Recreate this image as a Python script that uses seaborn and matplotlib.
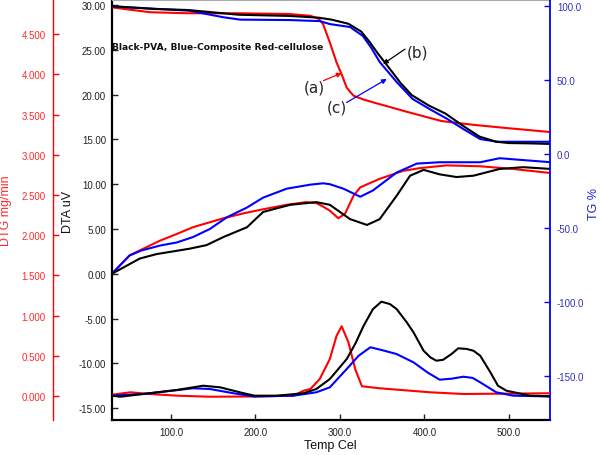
import matplotlib
matplotlib.use("Agg")
import matplotlib.pyplot as plt
import seaborn as sns
from matplotlib.ticker import FormatStrFormatter

# ---------------- data ----------------
# TG (%) curves (right axis)
tg_pva_T = [30, 80, 120, 180, 240, 275, 290, 310, 325, 335, 345, 360, 372, 385, 405, 425, 445, 465, 485, 500, 525, 550]
tg_pva_V = [100, 98.2, 97.5, 94.3, 93.5, 92.3, 91, 88.2, 83, 76, 68, 57, 48, 40, 33, 27.5, 19.5, 12, 8.5, 7.6, 7.4, 7]
tg_comp_T = [30, 122, 162, 182, 241, 276, 288, 312, 327, 337, 347, 367, 386, 406, 427, 446, 466, 486, 550]
tg_comp_V = [100, 97, 92.6, 91, 90.7, 90, 88, 86, 80, 72, 62.4, 48.9, 37.4, 30.6, 23.9, 17.1, 10.3, 8.5, 8.5]
tg_cell_T = [30, 75, 120, 180, 240, 265, 275, 280, 288, 296, 302, 308, 316, 328, 340, 380, 420, 460, 500, 550]
tg_cell_V = [99.3, 96, 95.3, 95.3, 94.8, 93.6, 91.5, 88, 75.6, 62, 54, 45, 39.6, 37, 35, 28.6, 22.5, 19.8, 17.6, 15]

# DTA (uV) curves (main axis)
dta_pva_T = [30, 63, 83, 122, 142, 162, 190, 209, 241, 272, 288, 312, 332, 347, 367, 383, 399, 418, 438, 458, 489, 517, 550]
dta_pva_V = [0, 1.7, 2.2, 2.8, 3.2, 4.1, 5.2, 6.9, 7.7, 8.0, 7.7, 6.1, 5.45, 6.1, 8.7, 10.95, 11.6, 11.1, 10.8, 10.95, 11.7, 11.9, 11.7]
dta_comp_T = [30, 51, 65, 87, 107, 126, 146, 166, 190, 209, 237, 265, 280, 288, 304, 324, 339, 367, 391, 418, 466, 489, 509, 550]
dta_comp_V = [0, 2.05, 2.6, 3.15, 3.5, 4.1, 5.0, 6.3, 7.4, 8.5, 9.5, 9.95, 10.1, 10.0, 9.5, 8.6, 9.3, 11.3, 12.3, 12.45, 12.45, 12.9, 12.75, 12.45]
dta_cell_T = [30, 51, 65, 87, 107, 126, 146, 162, 186, 209, 237, 260, 272, 280, 288, 298, 306, 316, 324, 347, 375, 395, 426, 466, 505, 549]
dta_cell_V = [0, 2.05, 2.7, 3.7, 4.45, 5.2, 5.75, 6.2, 6.75, 7.2, 7.7, 8.0, 7.9, 7.5, 7.05, 6.2, 6.7, 8.7, 9.65, 10.6, 11.5, 11.8, 12.1, 12.0, 11.7, 11.25]

# DTG (mg/min) curves (outer left axis)
dtg_pva_T = [30, 40, 67, 107, 138, 158, 186, 199, 225, 257, 272, 288, 308, 318, 328, 339, 349, 359, 367, 379, 387, 399,
             407, 414, 422, 432, 440, 450, 458, 466, 478, 487, 497, 525, 550]
dtg_pva_V = [0.004, -0.009, 0.025, 0.075, 0.128, 0.108, 0.034, 0.004, 0.004, 0.034, 0.087, 0.211, 0.46, 0.647, 0.874,
             1.08, 1.173, 1.144, 1.082, 0.917, 0.792, 0.563, 0.481, 0.439, 0.45, 0.522, 0.593, 0.585, 0.563, 0.501,
             0.295, 0.128, 0.066, 0.004, -0.004]
dtg_comp_T = [30, 67, 126, 146, 174, 199, 245, 272, 288, 308, 322, 336, 350, 367, 387, 404, 418, 432, 446, 457, 466,
              485, 505, 550]
dtg_comp_V = [0.004, 0.025, 0.096, 0.087, 0.034, -0.006, 0.004, 0.046, 0.108, 0.336, 0.5, 0.606, 0.57, 0.522, 0.419,
              0.29, 0.203, 0.215, 0.24, 0.225, 0.17, 0.046, 0.004, -0.006]
dtg_cell_T = [30, 52, 75, 107, 146, 199, 245, 257, 265, 276, 288, 296, 302, 310, 318, 326, 347, 407, 446, 550]
dtg_cell_V = [0.016, 0.046, 0.025, 0.004, -0.009, -0.006, 0.004, 0.066, 0.087, 0.211, 0.46, 0.75, 0.867, 0.668, 0.336,
              0.121, 0.096, 0.046, 0.025, 0.034]

x_ticks = [100, 200, 300, 400, 500]
dta_ticks = [-15, -10, -5, 0, 5, 10, 15, 20, 25, 30]
tg_ticks = [-150, -100, -50, 0, 50, 100]
dtg_ticks = [0, 0.5, 1.0, 1.5, 2.0, 2.5, 3.0, 3.5, 4.0, 4.5]

# ---------------- style ----------------
sns.set_style("white")
plt.rcParams['font.family'] = ['Liberation Sans', 'DejaVu Sans']

RED = '#ff0000'
BLUE = '#0000ff'
BLACK = '#000000'
LW = 1.5

fig = plt.figure(figsize=(6, 4.56), dpi=100)
ax = fig.add_axes([111.7 / 600, 1 - 421 / 456, 438.3 / 600, 420 / 456])
ax_tg = ax.twinx()
ax_dtg = ax.twinx()

# DTA
sns.lineplot(x=dta_cell_T, y=dta_cell_V, ax=ax, color=RED, lw=LW, sort=False, estimator=None)
sns.lineplot(x=dta_comp_T, y=dta_comp_V, ax=ax, color=BLUE, lw=LW, sort=False, estimator=None)
sns.lineplot(x=dta_pva_T, y=dta_pva_V, ax=ax, color=BLACK, lw=LW, sort=False, estimator=None)
# TG
sns.lineplot(x=tg_cell_T, y=tg_cell_V, ax=ax_tg, color=RED, lw=LW, sort=False, estimator=None)
sns.lineplot(x=tg_comp_T, y=tg_comp_V, ax=ax_tg, color=BLUE, lw=LW, sort=False, estimator=None)
sns.lineplot(x=tg_pva_T, y=tg_pva_V, ax=ax_tg, color=BLACK, lw=LW, sort=False, estimator=None)
# DTG
sns.lineplot(x=dtg_cell_T, y=dtg_cell_V, ax=ax_dtg, color=RED, lw=LW, sort=False, estimator=None)
sns.lineplot(x=dtg_comp_T, y=dtg_comp_V, ax=ax_dtg, color=BLUE, lw=LW, sort=False, estimator=None)
sns.lineplot(x=dtg_pva_T, y=dtg_pva_V, ax=ax_dtg, color=BLACK, lw=LW, sort=False, estimator=None)

ax.set_xlim(29.8, 548.6)
ax.set_ylim(-16.32, 30.56)
ax_tg.set_ylim(-179.5, 104.26)
ax_dtg.set_ylim(-0.2985, 4.925)

# main axis (DTA)
ax.set_xticks(x_ticks)
ax.set_yticks(dta_ticks)
ax.xaxis.set_major_formatter(FormatStrFormatter('%.1f'))
ax.yaxis.set_major_formatter(FormatStrFormatter('%.2f'))
ax.tick_params(axis='both', direction='in', length=4, width=1, labelsize=7, colors='#222222', pad=4)
ax.tick_params(axis='x', pad=5, bottom=True)
ax.tick_params(axis='y', left=True)
for s in ['left', 'bottom']:
    ax.spines[s].set_color(BLACK)
    ax.spines[s].set_linewidth(1.6)
ax.spines['top'].set_color('#aaaaaa')
ax.spines['top'].set_linewidth(0.8)
ax.spines['right'].set_visible(False)
ax.set_xlabel('Temp Cel', fontsize=9, color='#111111')
ax.xaxis.set_label_coords(0.498, -0.045)
ax.set_ylabel('DTA uV', fontsize=9, color='#111111')
ax.yaxis.set_label_coords(-0.086, 0.498)

# TG axis (right)
ax_tg.set_yticks(tg_ticks)
ax_tg.yaxis.set_major_formatter(FormatStrFormatter('%.1f'))
ax_tg.tick_params(axis='y', direction='in', length=4, width=1, labelsize=7, colors=BLUE, labelcolor='#3333bb', pad=5)
for s in ['left', 'top', 'bottom']:
    ax_tg.spines[s].set_visible(False)
ax_tg.spines['right'].set_color(BLUE)
ax_tg.spines['right'].set_linewidth(1.3)
ax_tg.set_ylabel('TG %', fontsize=9, color='#2222cc')
ax_tg.yaxis.set_label_coords(1.0867, 0.517)

# DTG axis (outer left)
ax_dtg.yaxis.set_ticks_position('left')
ax_dtg.yaxis.set_label_position('left')
ax_dtg.spines['left'].set_position(('axes', (52.7 - 111.7) / 438.3))
for s in ['right', 'top', 'bottom']:
    ax_dtg.spines[s].set_visible(False)
ax_dtg.spines['left'].set_color(RED)
ax_dtg.spines['left'].set_linewidth(1.0)
ax_dtg.set_yticks(dtg_ticks)
ax_dtg.yaxis.set_major_formatter(FormatStrFormatter('%.3f'))
ax_dtg.tick_params(axis='y', direction='in', length=4, width=1, labelsize=7, colors=RED, labelcolor='#ff2a2a', pad=5)
ax_dtg.set_ylabel('DTG mg/min', fontsize=9, color='#ff2a2a')
ax_dtg.yaxis.set_label_coords(-0.2275, 0.5)

# annotations
ax.text(0.001, 0.889, 'Black-PVA, Blue-Composite Red-cellulose', transform=ax.transAxes,
        fontsize=6.6, fontweight='bold', family=['DejaVu Sans'], va='center', ha='left', color='#111111')

ax_tg.text(0.698, 0.876, '(b)', transform=ax.transAxes, fontsize=11, ha='center', va='center', family=['DejaVu Sans'])
ax_tg.text(0.4616, 0.793, '(a)', transform=ax.transAxes, fontsize=11, ha='center', va='center', family=['DejaVu Sans'])
ax_tg.text(0.514, 0.745, '(c)', transform=ax.transAxes, fontsize=11, ha='center', va='center', family=['DejaVu Sans'])

ap = dict(arrowstyle='-|>', lw=0.9, mutation_scale=7, shrinkA=0, shrinkB=0)
ax_tg.annotate('', xy=(351, 61), xycoords='data', xytext=(0.669, 0.883), textcoords=ax.transAxes,
               arrowprops=dict(ap, color=BLACK))
ax_tg.annotate('', xy=(302, 54.9), xycoords='data', xytext=(0.483, 0.808), textcoords=ax.transAxes,
               arrowprops=dict(ap, color=RED))
ax_tg.annotate('', xy=(355.4, 50.9), xycoords='data', xytext=(0.536, 0.756), textcoords=ax.transAxes,
               arrowprops=dict(ap, color=BLUE))

fig.savefig('out.png', dpi=100)
